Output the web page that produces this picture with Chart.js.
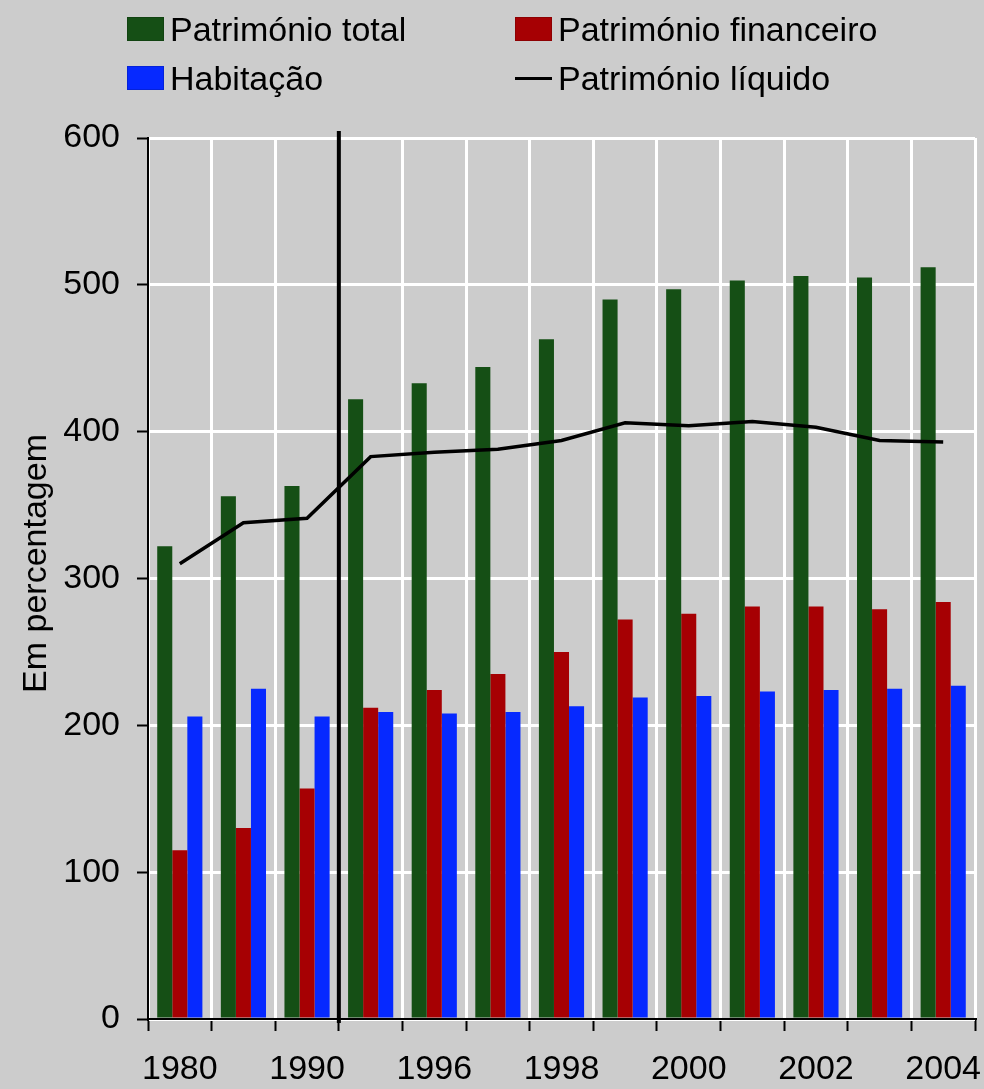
<!DOCTYPE html>
<html>
<head>
<meta charset="utf-8">
<script src="https://cdn.jsdelivr.net/npm/chart.js@4"></script>
<style>
  html, body { margin: 0; padding: 0; background: #cccccc; }
  #wrap { position: relative; width: 984px; height: 1089px; background: #cccccc; }
  #chart { position: absolute; left: 0; top: 0; }
  .legend-item {
    position: absolute; display: flex; align-items: center; height: 40px;
    font-family: Arial, "Liberation Sans", sans-serif; font-size: 34px; color: #000;
    white-space: nowrap;
  }
  .legend-item .sw { display: inline-block; margin-right: 6px; }
</style>
</head>
<body>
<div id="wrap">
  <canvas id="chart" width="984" height="1089"></canvas>
  <div id="legend"></div>
</div>
<script>
// categories and tick labels (only every other year is labelled)
const years = ['1980', '1985', '1990', '1995', '1996', '1997', '1998', '1999', '2000', '2001', '2002', '2003', '2004'];
const xTickLabels = ['1980', '', '1990', '', '1996', '', '1998', '', '2000', '', '2002', '', '2004'];

// series, in percent
const patrimonioTotal = [322, 356, 363, 422, 433, 444, 463, 490, 497, 503, 506, 505, 512];
const patrimonioFinanceiro = [115, 130, 157, 212, 224, 235, 250, 272, 276, 281, 281, 279, 284];
const habitacao = [206, 225, 206, 209, 208, 209, 213, 219, 220, 223, 224, 225, 227];
const patrimonioLiquido = [310, 338, 341, 383, 386, 388, 394, 406, 404, 407, 403, 394, 393];

const yTicks = [0, 100, 200, 300, 400, 500, 600];
const yTitle = 'Em percentagem';
const breakIndex = 3; // black separator before 1995

const FONT = 'Arial, "Liberation Sans", sans-serif';

// draws the separator line and the rotated y title
const extrasPlugin = {
  id: 'extras',
  afterDatasetsDraw(chart) {
    const { ctx, chartArea, scales } = chart;
    const x = (scales.x.getPixelForValue(breakIndex - 1) + scales.x.getPixelForValue(breakIndex)) / 2;
    ctx.save();
    ctx.strokeStyle = '#000';
    ctx.lineWidth = 4;
    ctx.beginPath();
    ctx.moveTo(x, chartArea.top - 7);
    ctx.lineTo(x, chartArea.bottom + 4);
    ctx.stroke();
    ctx.restore();
  },
  afterDraw(chart) {
    const { ctx, chartArea } = chart;
    ctx.save();
    ctx.translate(37, (chartArea.top + chartArea.bottom) / 2 - 15);
    ctx.rotate(-Math.PI / 2);
    ctx.font = '34px ' + FONT;
    ctx.fillStyle = '#000';
    ctx.textAlign = 'center';
    ctx.textBaseline = 'middle';
    ctx.fillText(yTitle, 0, 0);
    ctx.restore();
  }
};

const barOpts = { categoryPercentage: 0.71, barPercentage: 1.0, borderWidth: 0, order: 1 };

const chart = new Chart(document.getElementById('chart').getContext('2d'), {
  type: 'bar',
  data: {
    labels: years,
    datasets: [
      Object.assign({ label: 'Património total', data: patrimonioTotal, backgroundColor: '#154f15' }, barOpts),
      Object.assign({ label: 'Património financeiro', data: patrimonioFinanceiro, backgroundColor: '#a60003' }, barOpts),
      Object.assign({ label: 'Habitação', data: habitacao, backgroundColor: '#0629ff' }, barOpts),
      {
        type: 'line',
        label: 'Património líquido',
        data: patrimonioLiquido,
        borderColor: '#000',
        backgroundColor: '#000',
        borderWidth: 3.5,
        pointRadius: 0,
        tension: 0,
        order: 0
      }
    ]
  },
  options: {
    responsive: false,
    animation: false,
    devicePixelRatio: 1,
    layout: { autoPadding: false, padding: { left: 0, right: 9, top: 138, bottom: 0 } },
    plugins: {
      legend: { display: false },
      tooltip: { enabled: false }
    },
    scales: {
      x: {
        offset: true,
        grid: { offset: true, color: '#ffffff', lineWidth: 3, tickColor: '#000', tickLength: 12, tickWidth: 2 },
        border: { color: '#000', width: 2, z: 1 },
        ticks: {
          autoSkip: false, maxRotation: 0, padding: 18, color: '#000',
          font: { family: FONT, size: 34 },
          callback: (v, i) => xTickLabels[i]
        },
        afterFit: (scale) => {
          scale.height = 70;
          scale.paddingLeft = 0;
          scale.paddingRight = 0;
        }
      },
      y: {
        min: yTicks[0],
        max: yTicks[yTicks.length - 1],
        afterBuildTicks: (scale) => { scale.ticks = yTicks.map(v => ({ value: v })); },
        grid: { color: '#ffffff', lineWidth: 3, tickColor: '#000', tickLength: 11, tickWidth: 2 },
        border: { color: '#000', width: 2, z: 1 },
        ticks: { padding: 17, color: '#000', font: { family: FONT, size: 34 } },
        afterFit: (scale) => {
          scale.width = 148;
          scale.paddingTop = 0;
          scale.paddingBottom = 0;
        }
      }
    }
  },
  plugins: [extrasPlugin]
});

// html legend in two columns (row-major), built from the chart datasets
const legendEl = document.getElementById('legend');
chart.data.datasets.forEach((ds, i) => {
  const col = i % 2, row = Math.floor(i / 2);
  const item = document.createElement('div');
  item.className = 'legend-item';
  item.style.left = (127 + col * 388) + 'px';
  item.style.top = (row === 0 ? 9 : 58) + 'px';
  const sw = document.createElement('span');
  sw.className = 'sw';
  if (ds.type === 'line') {
    sw.style.width = '37px'; sw.style.height = '3px'; sw.style.background = ds.borderColor;
  } else {
    sw.style.width = '35px'; sw.style.height = '22px'; sw.style.background = ds.backgroundColor;
    sw.style.border = '1px solid rgba(0,0,0,0.15)';
  }
  const txt = document.createElement('span');
  txt.textContent = ds.label;
  item.appendChild(sw);
  item.appendChild(txt);
  legendEl.appendChild(item);
});
</script>
</body>
</html>
